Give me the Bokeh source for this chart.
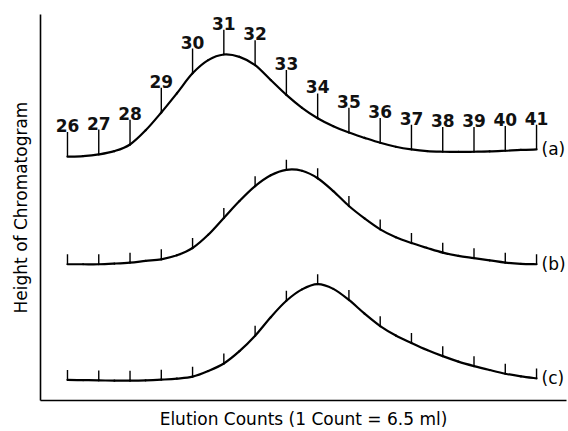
from bokeh.plotting import figure
from bokeh.models import Range1d, FixedTicker
from bokeh.embed import file_html
from bokeh.resources import INLINE
from bokeh.core.properties import value

# Elution count at which each chromatogram height was read
counts = [26, 26.5, 27, 27.5, 28, 28.5, 29, 29.5, 30, 30.5, 31, 31.5,
          32, 32.5, 33, 33.5, 34, 34.5, 35, 35.5, 36, 36.5, 37, 37.5,
          38, 38.5, 39, 39.5, 40, 40.5, 41]

# Detector trace heights (arbitrary units, traces stacked one above another)
height_a = [245.7, 246.3, 248.0, 251.3, 258.0, 272.3, 290.3, 309.7, 329.7,
            343.0, 348.7, 346.3, 338.0, 323.0, 308.0, 295.0, 284.5, 276.5,
            270.0, 264.7, 259.7, 255.7, 253.0, 251.3, 250.7, 250.5, 250.7,
            251.0, 251.7, 252.5, 253.0]
height_b = [137.3, 137.3, 137.3, 138.0, 139.0, 140.7, 142.3, 146.3, 153.7,
            167.0, 184.0, 201.0, 216.0, 227.0, 232.5, 231.5, 224.0, 211.0,
            196.0, 183.5, 172.5, 164.5, 158.7, 153.7, 149.0, 145.7, 143.5,
            141.3, 139.0, 137.7, 137.3]
height_c = [20.7, 20.5, 20.3, 20.0, 20.0, 20.3, 21.0, 22.0, 24.0, 29.7,
            37.3, 49.7, 65.3, 84.0, 100.5, 112.0, 117.3, 112.5, 101.3, 87.5,
            75.0, 65.5, 58.0, 50.9, 44.7, 39.2, 34.7, 30.7, 27.0, 24.3, 22.3]

# Count marks along each trace
tick_counts = [26, 27, 28, 29, 30, 31, 32, 33, 34, 35, 36, 37, 38, 39, 40, 41]
tick_labels = ["26", "27", "28", "29", "30", "31", "32", "33",
               "34", "35", "36", "37", "38", "39", "40", "41"]
trace_names = ["(a)", "(b)", "(c)"]

FONT = value("DejaVu Sans")
W, H = 568, 431
BORDER_L, BORDER_R, BORDER_T, BORDER_B = 40, 2, 14, 28


def smooth_segments(xs, ys):
    """Catmull-Rom control points so the trace passes through every reading."""
    n = len(xs)
    px = [xs[0]] + list(xs) + [xs[-1]]
    py = [ys[0]] + list(ys) + [ys[-1]]
    seg = dict(x0=[], y0=[], x1=[], y1=[], cx0=[], cy0=[], cx1=[], cy1=[])
    for i in range(1, n):
        seg["x0"].append(px[i]); seg["y0"].append(py[i])
        seg["x1"].append(px[i + 1]); seg["y1"].append(py[i + 1])
        seg["cx0"].append(px[i] + (px[i + 1] - px[i - 1]) / 6)
        seg["cy0"].append(py[i] + (py[i + 1] - py[i - 1]) / 6)
        seg["cx1"].append(px[i + 1] - (px[i + 2] - px[i]) / 6)
        seg["cy1"].append(py[i + 1] - (py[i + 2] - py[i]) / 6)
    return seg


p = figure(width=W, height=H, output_backend="svg", toolbar_location=None,
           min_border_left=BORDER_L, min_border_right=BORDER_R,
           min_border_top=BORDER_T, min_border_bottom=BORDER_B,
           x_range=Range1d(25.137, 41.958), y_range=Range1d(0, 389))
p.outline_line_color = None
p.xgrid.visible = False
p.ygrid.visible = False
p.background_fill_color = "white"
p.border_fill_color = "white"

for ax in (p.xaxis[0], p.yaxis[0]):
    ax.ticker = FixedTicker(ticks=[])
    ax.major_tick_line_color = None
    ax.minor_tick_line_color = None
    ax.major_label_standoff = 0
    ax.axis_line_width = 1.6
    ax.axis_line_color = "black"
    ax.axis_label_text_font = "DejaVu Sans"
    ax.axis_label_text_font_size = "17px"
    ax.axis_label_text_font_style = "normal"
    ax.axis_label_text_color = "black"
p.xaxis.axis_label = "Elution Counts (1 Count = 6.5 ml)"
p.yaxis.axis_label = "Height of Chromatogram"
p.xaxis.axis_label_standoff = 8
p.yaxis.axis_label_standoff = 10

traces = [height_a, height_b, height_c]
tick_len = [25, 10, 10]

for heights, name, tl in zip(traces, trace_names, tick_len):
    p.bezier(line_color="black", line_width=2.2, line_cap="round",
             **smooth_segments(counts, heights))
    at_ticks = [h for c, h in zip(counts, heights) if c in tick_counts]
    p.segment(x0=tick_counts, y0=at_ticks, x1=tick_counts,
              y1=[h + tl for h in at_ticks],
              line_color="black", line_width=1.4)
    p.text(x=[counts[-1]], y=[heights[-1]], text=[name], x_offset=5,
           text_align="left", text_baseline="middle", text_font=FONT,
           text_font_size=value("17px"), text_color="black")
    if name == "(a)":
        p.text(x=tick_counts, y=[h + tl for h in at_ticks],
               text=tick_labels, text_align="center",
               text_baseline="bottom", text_font=FONT,
               text_font_size=value("17px"), text_font_style="bold",
               text_color="#111111")

open("out.html", "w").write(file_html(p, INLINE))
